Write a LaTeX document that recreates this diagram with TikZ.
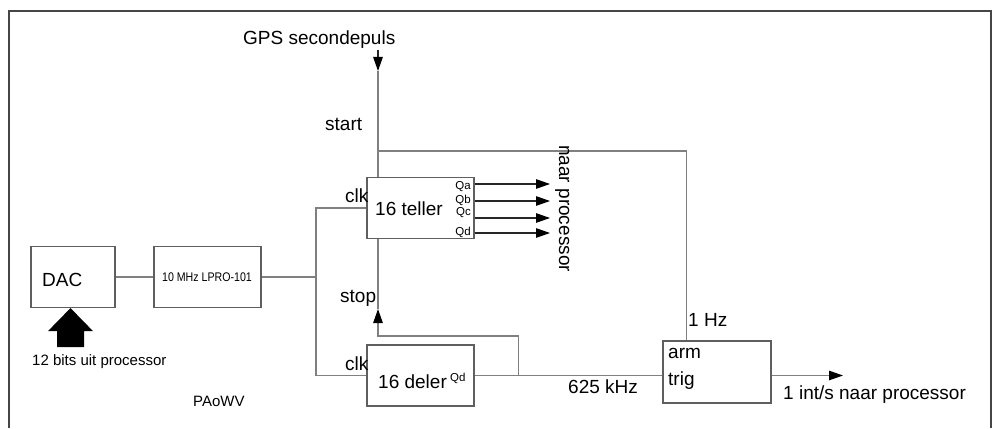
\documentclass[tikz,border=0pt]{standalone}
\usepackage{graphicx}
\usepackage{fontspec}
\setmainfont{Liberation Sans}
\usetikzlibrary{arrows.meta, positioning, calc}
\definecolor{wiregray}{RGB}{128,128,128}
\definecolor{boxgray}{RGB}{95,95,95}
\definecolor{framegray}{RGB}{70,70,70}
\tikzset{
    blk/.style  ={draw=boxgray, line width=1.2pt, fill=white,
                  minimum width=107pt, minimum height=61pt, inner sep=0pt},
    wire/.style ={draw=wiregray, line width=1.2pt},
    ar/.style   ={-{Triangle[length=14pt, width=9.5pt, color=black, fill=black]},
                  line width=1.2pt, draw=black!85},
    arw/.style  ={wire, -{Triangle[length=14pt, width=9.5pt, color=black, fill=black]}},
    lbl/.style  ={font=\fontsize{19}{22}\selectfont, inner sep=0pt, anchor=base west},
    sml/.style  ={font=\fontsize{15}{17}\selectfont, inner sep=0pt, anchor=base west},
    qlbl/.style ={font=\fontsize{11.5}{12}\selectfont, inner sep=0pt, anchor=east}
}

\begin{document}
\begin{tikzpicture}[x=1pt, y=-1pt]
  \useasboundingbox (0,0) rectangle (995,428);
  \draw[framegray, line width=1.5pt] (9,428) -- (9,11) -- (991,11) -- (991,428);

  % blokken
  \node[blk, minimum width=84pt] (dac) at (73,277) {};
  \node[lbl] at (42,286) {DAC};
  \node[blk] (lpro) at (207.5,277) {};
  \node[font=\fontsize{12.5}{13}\selectfont, inner sep=0pt] at (207,277)
       {\scalebox{0.85}[1]{10 MHz LPRO-101}};
  \node[blk] (teller) at (420.5,208) {};
  \node[lbl] at (375,215) {16 teller};
  \node[blk] (deler) at (420.5,375.5) {};
  \node[lbl] at (378,388) {16 deler};
  \node[font=\fontsize{11.5}{12}\selectfont, inner sep=0pt, anchor=base west] at (450,381) {Qd};
  \node[blk, minimum width=108pt, minimum height=62pt] (trigbox) at (717,372) {};
  \node[lbl] at (668,358) {arm};
  \node[lbl] at (668,385) {trig};

  % GPS secondepuls -> start
  \node[lbl] (gps) at (243,45) {GPS secondepuls};
  \coordinate (gpsin) at (378,50);
  \coordinate (gpstip) at (378,71);
  \draw[ar] (gpsin) -- (gpstip);
  \draw[wire] (gpstip) -- (gpstip |- teller.north);
  \node[lbl] at (325,130) {start};
  \coordinate (startj) at (378,151);
  \coordinate (hzin) at ([xshift=24pt]trigbox.north west);
  \draw[wire] (startj) -| (hzin);
  \node[lbl] at (688,326) {1 Hz};

  % klok
  \draw[wire] (dac.east) -- (lpro.west);
  \coordinate (clkj) at (316,277);
  \draw[wire] (lpro.east) -- (clkj);
  \draw[wire] (teller.west) -| (clkj) |- (deler.west);
  \node[lbl] at (345,202) {clk};
  \node[lbl] at (345,370) {clk};

  % uitgangen teller
  \foreach \q/\y/\ly in {a/184/187, b/201/200, c/218/213, d/233/232} {
    \coordinate (q\q) at (550,\y);
    \draw[ar] (teller.east |- q\q) -- (q\q);
    \node[qlbl] at (471,\ly) {Q\q};
  }
  \node[lbl, rotate=-90] at (559,145) {naar processor};

  % stop
  \coordinate (stopj) at ([xshift=44pt]deler.east);
  \coordinate (stopc) at (378,336);
  \coordinate (stoptip) at (378,309);
  \draw[wire] (stoptip) -- (stoptip |- teller.south);
  \draw[arw] (stopj) |- (stopc) -- (stoptip);
  \node[lbl] at (340,302) {stop};

  % 625 kHz -> trig
  \draw[wire] (deler.east) -- (deler.east -| trigbox.west);
  \node[lbl] at (568,393) {625 kHz};
  \coordinate (intout) at (843,375.5);
  \draw[arw] (trigbox.east |- intout) -- (intout);
  \node[lbl] at (783,399) {1 int/s naar processor};

  % 12 bits
  \fill[black] ([xshift=-2.5pt]dac.south) -- ++(22.5,23) -- ++(-9,0) -- ++(0,16)
        -- ++(-27,0) -- ++(0,-16) -- ++(-9,0) -- cycle;
  \node[sml] at (32,365) {12 bits uit processor};
  \node[sml] at (193,406) {PAoWV};
\end{tikzpicture}
\end{document}
